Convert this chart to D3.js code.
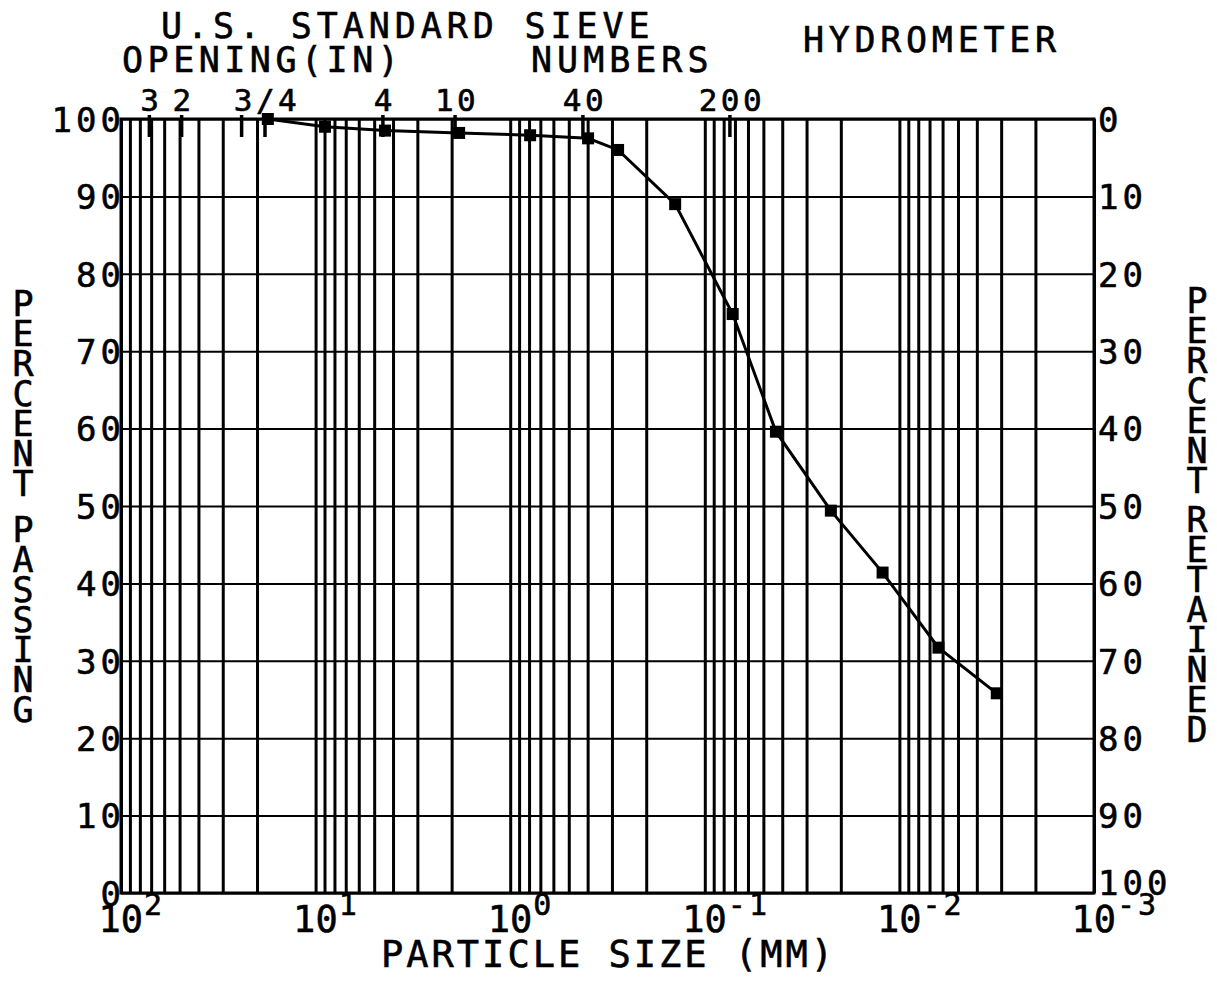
<!DOCTYPE html>
<html>
<head>
<meta charset="utf-8">
<script src="https://cdn.jsdelivr.net/npm/d3@7"></script>
<style>
  body { margin: 0; background: #fff; }
  svg { display: block; }
  text { font-family: "DejaVu Sans Mono", "Liberation Mono", monospace; fill: #000; stroke: #000; stroke-width: 0.6px; }
  .grid line { stroke: #000; }
  .grid path { display: none; }
</style>
</head>
<body>
<svg width="1217" height="992"></svg>
<script>
// grain size: particle size (mm) vs percent passing
var sizes   = [17.6, 8.95, 4.40, 1.83, 0.79, 0.398, 0.279, 0.142, 0.0719, 0.0431, 0.0225, 0.0122, 0.0063, 0.00316];
var passing = [100, 99.0, 98.5, 98.2, 97.9, 97.5, 96.0, 89.0, 74.8, 59.6, 49.4, 41.4, 31.7, 25.8];

// sieve marks along the top edge
var sieveSizes  = [71.5, 48.8, 24.0, 18.2, 4.51, 1.92, 0.423, 0.0743];
var sieveLabels = ["3", "2", "", "3/4", "4", "10", "40", "200"];

var decades   = [100, 10, 1, 0.1, 0.01, 0.001];
var exponents = ["2", "1", "0", "-1", "-2", "-3"];
var yTicks    = [0, 10, 20, 30, 40, 50, 60, 70, 80, 90, 100];
var mantissas = [1, 2, 3, 4, 5, 6, 7, 8, 9];

var svg = d3.select("svg");
var pL = 121, pR = 1094, pT = 119, pB = 893;

var x = d3.scaleLog().domain([100, 0.001]).range([pL, pR]);
var y = d3.scaleLinear().domain([0, 100]).range([pB, pT]);
var yR = d3.scaleLinear().domain([100, 0]).range([pB, pT]);

// log grid: 1..9 in every decade
var gridVals = [100];
decades.slice(1).forEach(function(d) {
  mantissas.forEach(function(m) { gridVals.push(d * m); });
});

svg.append("g")
    .attr("class", "grid")
    .attr("transform", "translate(0," + pB + ")")
    .call(d3.axisBottom(x).tickValues(gridVals).tickSize(-(pB - pT)).tickFormat(""))
    .selectAll("line").attr("stroke-width", 3);

svg.append("g")
    .attr("class", "grid")
    .attr("transform", "translate(" + pL + ",0)")
    .call(d3.axisLeft(y).tickValues(yTicks).tickSize(-(pR - pL)).tickFormat(""))
    .selectAll("line").attr("stroke-width", 2);

svg.append("rect")
    .attr("x", pL).attr("y", pT)
    .attr("width", pR - pL).attr("height", pB - pT)
    .attr("fill", "none").attr("stroke", "#000").attr("stroke-width", 3);

// sieve ticks
svg.selectAll(".sieve")
  .data(sieveSizes)
  .enter().append("line")
    .attr("class", "sieve")
    .attr("x1", function(d) { return x(d); })
    .attr("x2", function(d) { return x(d); })
    .attr("y1", pT - 4).attr("y2", pT + 18)
    .attr("stroke", "#000").attr("stroke-width", 3.5);

svg.selectAll(".sieveLabel")
  .data(sieveSizes)
  .enter().append("text")
    .attr("class", "sieveLabel")
    .attr("x", function(d) { return x(d) + 2; })
    .attr("y", 111)
    .attr("text-anchor", "middle")
    .style("font-size", "31px")
    .style("letter-spacing", "3.5px")
    .text(function(d, i) { return sieveLabels[i]; });

// left axis labels
var yl = svg.append("g")
    .attr("transform", "translate(" + (pL + 4) + ",0)")
    .call(d3.axisLeft(y).tickValues(yTicks).tickSize(0).tickPadding(0));
yl.select(".domain").remove();
yl.selectAll("text")
    .attr("dy", "0.36em")
    .style("font-size", "34px")
    .style("letter-spacing", "4px");

// right axis labels
var yr = svg.append("g")
    .attr("transform", "translate(" + (pR + 4) + ",0)")
    .call(d3.axisRight(yR).tickValues(yTicks).tickSize(0).tickPadding(0));
yr.select(".domain").remove();
yr.selectAll("text")
    .attr("dy", function(d) { return d == 100 ? "0.05em" : "0.36em"; })
    .style("font-size", "34px")
    .style("letter-spacing", "4px");

// bottom powers of ten
var xl = svg.append("g")
    .attr("transform", "translate(0," + pB + ")")
    .call(d3.axisBottom(x).tickValues(decades).tickSize(0).tickFormat(""));
xl.select(".domain").remove();
xl.selectAll(".tick text").each(function(d, i) {
  var t = d3.select(this)
      .attr("text-anchor", "start")
      .attr("x", -23)
      .attr("y", 39)
      .attr("dy", null)
      .style("font-size", "37px");
  t.append("tspan").text("10");
  t.append("tspan")
      .attr("dy", -17)
      .attr("dx", 1)
      .style("font-size", "30px")
      .style("letter-spacing", "3px")
      .text(exponents[i]);
});

// curve
var line = d3.line()
    .x(function(d) { return x(d[0]); })
    .y(function(d) { return y(d[1]); });

var pts = sizes.map(function(s, i) { return [s, passing[i]]; });

svg.append("path")
    .datum(pts)
    .attr("d", line)
    .attr("fill", "none")
    .attr("stroke", "#000")
    .attr("stroke-width", 3);

svg.selectAll(".pt")
  .data(pts)
  .enter().append("rect")
    .attr("class", "pt")
    .attr("x", function(d) { return x(d[0]) - 6; })
    .attr("y", function(d) { return y(d[1]) - 6; })
    .attr("width", 12).attr("height", 12)
    .attr("fill", "#000");

// titles
function label(txt, px, py, size, sp) {
  svg.append("text")
      .attr("x", px).attr("y", py)
      .style("font-size", size + "px")
      .style("letter-spacing", sp + "px")
      .text(txt);
}
label("U.S. STANDARD SIEVE", 161, 38, 35, 4.9);
label("OPENING(IN)", 122, 72, 35, 4.5);
label("NUMBERS", 531, 72, 35, 5);
label("HYDROMETER", 803, 52, 35, 4.7);
label("PARTICLE SIZE (MM)", 381, 967, 37, 3);

// stacked vertical letters
function stack(word, cx, cy0) {
  svg.append("g").selectAll("text")
    .data(word.split(""))
    .enter().append("text")
      .attr("x", cx)
      .attr("y", function(d, i) { return cy0 + i * 30; })
      .attr("dy", "0.36em")
      .attr("text-anchor", "middle")
      .style("font-size", "35px")
      .text(function(d) { return d; });
}
stack("PERCENT", 23, 303);
stack("PASSING", 23, 529);
stack("PERCENT", 1197, 300);
stack("RETAINED", 1197, 519);
</script>
</body>
</html>
